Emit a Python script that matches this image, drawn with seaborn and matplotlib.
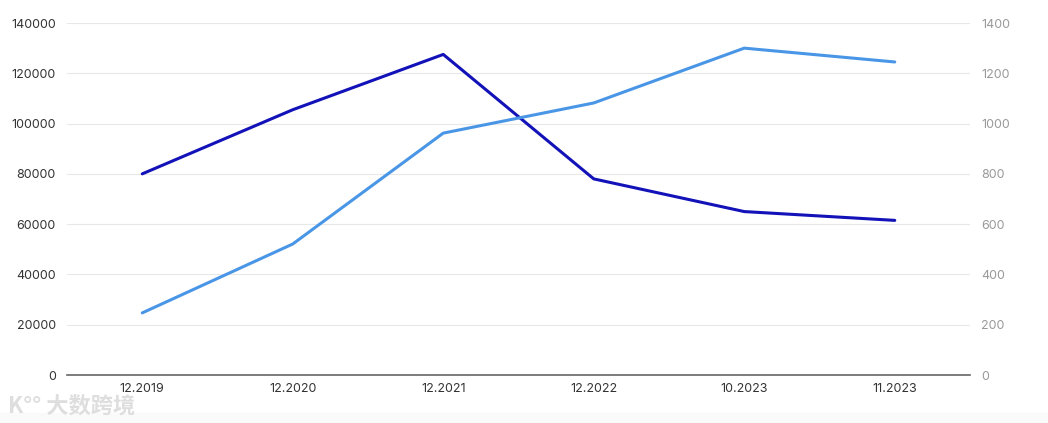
import pandas as pd
import matplotlib
matplotlib.use('Agg')
import matplotlib.pyplot as plt
import seaborn as sns
from matplotlib.patches import Rectangle

periods = ['12.2019', '12.2020', '12.2021', '12.2022', '10.2023', '11.2023']
left_values = [80000, 105500, 127500, 78000, 65000, 61500]
right_values = [247, 521, 962, 1082, 1300, 1245]
left_ticks = [0, 20000, 40000, 60000, 80000, 100000, 120000, 140000]
right_ticks = [0, 200, 400, 600, 800, 1000, 1200, 1400]

df = pd.DataFrame({'period': periods, 'left': left_values, 'right': right_values})

sns.set_theme(style='white')
plt.rcParams['font.family'] = ['Inter', 'DejaVu Sans']

fig = plt.figure(figsize=(10.48, 4.23), dpi=100)
ax = fig.add_axes([67 / 1048, 48 / 423, 903 / 1048, 352 / 423])
ax2 = ax.twinx()

sns.lineplot(data=df, x='period', y='left', ax=ax, color='#1212B8', linewidth=2.2, sort=False)
sns.lineplot(data=df, x='period', y='right', ax=ax2, color='#4A96E6', linewidth=2.2, sort=False)

ax.set_xlim(-0.5, len(periods) - 0.5)
ax.set_ylim(0, 140000)
ax2.set_ylim(0, 1400)
ax.set_yticks(left_ticks)
ax.set_yticklabels([str(t) for t in left_ticks])
ax2.set_yticks(right_ticks)
ax2.set_yticklabels([str(t) for t in right_ticks])
ax.set_xticks(range(len(periods)))
ax.set_xticklabels(periods)

ax.grid(axis='y', color='#e8e8e8', linewidth=0.8)
ax.set_axisbelow(True)
for a in (ax, ax2):
    a.set_xlabel('')
    a.set_ylabel('')
    for s in ['top', 'left', 'right', 'bottom']:
        a.spines[s].set_visible(False)
ax.spines['bottom'].set_visible(True)
ax.spines['bottom'].set_color('#666666')
ax.spines['bottom'].set_linewidth(1.2)

ax.tick_params(axis='y', length=0, labelsize=9, colors='#333333', pad=8)
ax.tick_params(axis='x', length=0, labelsize=9, colors='#333333', pad=6)
ax2.tick_params(axis='y', length=0, labelsize=9, colors='#999999', pad=8)

# faint bottom band and watermark
fig.patches.append(Rectangle((0, 0), 1, 10 / 423, transform=fig.transFigure,
                             color='#fafafa', zorder=0))
fig.text(8 / 1048, 17 / 423, 'K°° 大数跨境', fontsize=16, color='#dedede',
         family=['Noto Sans CJK SC', 'DejaVu Sans'], fontweight='bold', va='center')

fig.savefig('out.png', dpi=100, facecolor='white')
